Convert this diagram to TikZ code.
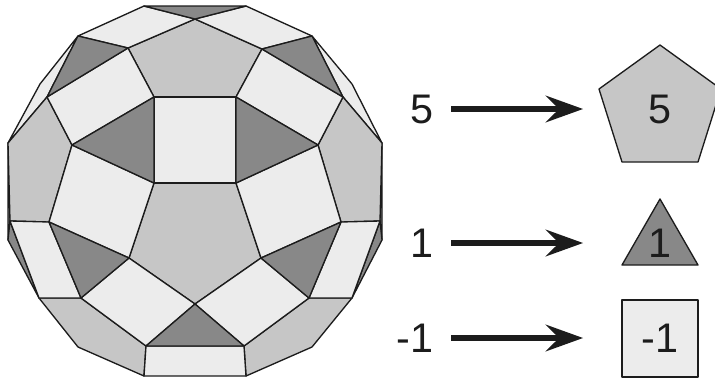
\documentclass[tikz,border=0pt]{standalone}
\usepackage{fontspec}
\setmainfont{Liberation Sans}
\usetikzlibrary{arrows.meta}
\definecolor{lite}{HTML}{ECECEC}
\definecolor{midg}{HTML}{C6C6C6}
\definecolor{dark}{HTML}{888888}
\definecolor{ink}{HTML}{1C1C1C}
\tikzset{
  face/.style={draw=ink,line width=1pt,line join=round},
  lf/.style={face,fill=lite},
  mf/.style={face,fill=midg},
  df/.style={face,fill=dark},
  lab/.style={inner sep=0pt,text=ink,font=\fontsize{31}{31}\selectfont},
  leftlab/.style={lab,anchor=east},
  arr/.style={draw=ink,line width=3.9pt,shorten <=13pt,shorten >=57.7pt,
    -{Stealth[length=28pt,width=20pt,inset=10pt]}},
}
\begin{document}
\begin{tikzpicture}[x=0.75pt,y=-0.75pt]
\path[use as bounding box] (0,0) rectangle (715,383);
% vertices
\foreach \n/\x/\y in {A/144/6,Aa/246/6,D/195/19,B/78/36,Ba/312/36,C/128/48,Ca/262/49,
  E/47/97,Ea/343/97,F/154/97,Fa/236/97,G/72/145,Ga/318/145,H/154/183,Ha/236/183,
  I/8/143,Ia/382/143,J/40/84,Ja/352/84,K/10/221,Ka/380/221,L/49/222,La/341/222,
  M/129/258,Ma/261/258,N/81/298,Na/309/298,O/39/298,Oa/352/298,P/8/240,Pa/382/240,
  Q/78/347,Qa/312/347,R/144/376,Ra/246/376,S/146/346,Sa/244/346,T/195/304}
  {\coordinate (\n) at (\x,\y);}
% outer slivers
\path[lf] (I)--(J)--(B)--(E)--cycle;
\path[lf] (Ia)--(Ja)--(Ba)--(Ea)--cycle;
\path[df] (I)--(K)--(P)--cycle;
\path[df] (Ia)--(Ka)--(Pa)--cycle;
\path[df] (K)--(O)--(P)--cycle;
\path[df] (Ka)--(Oa)--(Pa)--cycle;
% pentagons
\path[mf] (C)--(D)--(Ca)--(Fa)--(F)--cycle;
\path[mf] (H)--(Ha)--(Ma)--(T)--(M)--cycle;
\path[mf] (I)--(E)--(G)--(L)--(K)--cycle;
\path[mf] (Ia)--(Ea)--(Ga)--(La)--(Ka)--cycle;
\path[mf] (O)--(N)--(S)--(R)--(Q)--cycle;
\path[mf] (Oa)--(Na)--(Sa)--(Ra)--(Qa)--cycle;
% squares
\path[lf] (F)--(Fa)--(Ha)--(H)--cycle;
\path[lf] (A)--(D)--(C)--(B)--cycle;
\path[lf] (Aa)--(D)--(Ca)--(Ba)--cycle;
\path[lf] (C)--(F)--(G)--(E)--cycle;
\path[lf] (Ca)--(Fa)--(Ga)--(Ea)--cycle;
\path[lf] (G)--(H)--(M)--(L)--cycle;
\path[lf] (Ga)--(Ha)--(Ma)--(La)--cycle;
\path[lf] (K)--(L)--(N)--(O)--cycle;
\path[lf] (Ka)--(La)--(Na)--(Oa)--cycle;
\path[lf] (M)--(T)--(S)--(N)--cycle;
\path[lf] (Ma)--(T)--(Sa)--(Na)--cycle;
\path[lf] (S)--(Sa)--(Ra)--(R)--cycle;
% triangles
\path[df] (A)--(Aa)--(D)--cycle;
\path[df] (B)--(C)--(E)--cycle;
\path[df] (Ba)--(Ca)--(Ea)--cycle;
\path[df] (F)--(G)--(H)--cycle;
\path[df] (Fa)--(Ga)--(Ha)--cycle;
\path[df] (L)--(M)--(N)--cycle;
\path[df] (La)--(Ma)--(Na)--cycle;
\path[df] (T)--(S)--(Sa)--cycle;
% key shapes
\path[mf] (660,45)--(599,89)--(622,162)--(698,162)--(721,89)--cycle;
\path[df] (660,199)--(622,265)--(698,265)--cycle;
\path[lf] (622,300) rectangle (698,377);
% key labels
\node[leftlab] (l5) at (434,109) {5};
\node[leftlab] (l1) at (434,243) {1};
\node[leftlab] (lm) at (434,338) {-1};
\node[lab] (s5) at (660,109) {5};
\node[lab] (s1) at (660,243) {1};
\node[lab] (sm) at (660,338) {-1};
\draw[arr] (l5.east) -- (s5.center);
\draw[arr] (l1.east) -- (s1.center);
\draw[arr] (lm.east) -- (sm.center);
\end{tikzpicture}
\end{document}
